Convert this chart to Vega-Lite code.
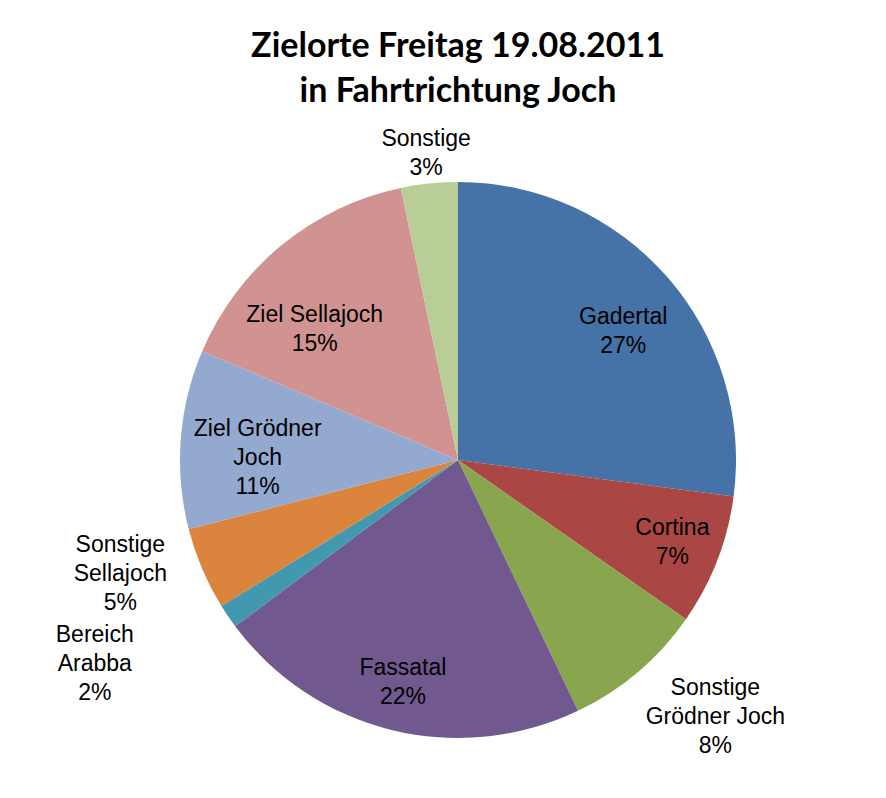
{
  "$schema": "https://vega.github.io/schema/vega-lite/v6.json",
  "width": 856,
  "height": 676,
  "autosize": {"type": "none"},
  "padding": {"left": 30, "top": 122, "right": 0, "bottom": 0},
  "background": "white",
  "config": {"view": {"stroke": null}},
  "title": {
    "text": ["Zielorte Freitag 19.08.2011", "in Fahrtrichtung Joch"],
    "font": "Lato",
    "fontWeight": "bold",
    "fontSize": 34,
    "lineHeight": 45,
    "color": "black",
    "anchor": "middle",
    "frame": "group",
    "offset": 13
  },
  "data": {
    "values": [
      {"idx": 1, "cat": "Gadertal", "value": 27.1, "label": "Gadertal\n27%"},
      {"idx": 2, "cat": "Cortina", "value": 7.6, "label": "Cortina\n7%"},
      {"idx": 3, "cat": "Sonstige Grödner Joch", "value": 8.2, "label": "Sonstige\nGrödner Joch\n8%"},
      {"idx": 4, "cat": "Fassatal", "value": 21.9, "label": "Fassatal\n22%"},
      {"idx": 5, "cat": "Bereich Arabba", "value": 1.4, "label": "Bereich\nArabba\n2%"},
      {"idx": 6, "cat": "Sonstige Sellajoch", "value": 4.8, "label": "Sonstige\nSellajoch\n5%"},
      {"idx": 7, "cat": "Ziel Grödner Joch", "value": 10.4, "label": "Ziel Grödner\nJoch\n11%"},
      {"idx": 8, "cat": "Ziel Sellajoch", "value": 15.3, "label": "Ziel Sellajoch\n15%"},
      {"idx": 9, "cat": "Sonstige", "value": 3.3, "label": "Sonstige\n3%"}
    ]
  },
  "encoding": {
    "theta": {"field": "value", "type": "quantitative", "stack": true},
    "order": {"field": "idx", "type": "quantitative"}
  },
  "layer": [
    {
      "mark": {"type": "arc", "outerRadius": 278},
      "encoding": {
        "color": {
          "field": "cat",
          "type": "nominal",
          "legend": null,
          "scale": {
            "domain": ["Gadertal", "Cortina", "Sonstige Grödner Joch", "Fassatal", "Bereich Arabba", "Sonstige Sellajoch", "Ziel Grödner Joch", "Ziel Sellajoch", "Sonstige"],
            "range": ["#4572A7", "#AA4643", "#89A54E", "#71588F", "#4198AF", "#DB843D", "#93A9CF", "#D19392", "#B9CD96"]
          }
        }
      }
    },
    {
      "mark": {
        "type": "text",
        "font": "Liberation Sans",
        "fontSize": 23,
        "lineHeight": 29,
        "lineBreak": "\n",
        "color": "black",
        "align": "center",
        "baseline": "middle",
        "radius": {"expr": "datum.cat === 'Gadertal' ? 201 : (datum.cat === 'Cortina' || datum.cat === 'Fassatal') ? 230 : datum.cat === 'Ziel Grödner Joch' ? 225 : datum.cat === 'Ziel Sellajoch' ? 191 : datum.cat === 'Sonstige' ? 308 : datum.cat === 'Sonstige Grödner Joch' ? 373 : datum.cat === 'Sonstige Sellajoch' ? 355 : 415"},
        "dx": {"expr": "datum.cat === 'Gadertal' ? 14 : datum.cat === 'Ziel Grödner Joch' ? 24 : datum.cat === 'Ziel Sellajoch' ? -22 : datum.cat === 'Sonstige Grödner Joch' ? 16 : datum.cat === 'Sonstige Sellajoch' ? -11 : datum.cat === 'Bereich Arabba' ? -20 : 0"},
        "dy": {"expr": "datum.cat === 'Gadertal' ? -11 : datum.cat === 'Ziel Grödner Joch' ? -14 : datum.cat === 'Ziel Sellajoch' ? 3 : datum.cat === 'Sonstige Grödner Joch' ? -56 : datum.cat === 'Sonstige Sellajoch' ? -54 : datum.cat === 'Bereich Arabba' ? -58 : -15"}
      },
      "encoding": {
        "detail": {"field": "cat", "type": "nominal"},
        "text": {"field": "label", "type": "nominal"}
      }
    }
  ]
}
